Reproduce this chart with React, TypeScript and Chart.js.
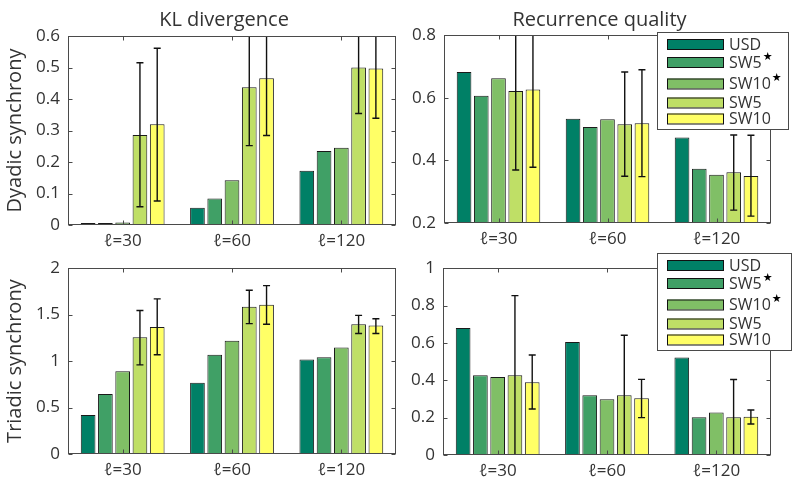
import React, { useEffect, useRef } from "react";
import { Chart, registerables } from "chart.js";

Chart.register(...registerables);

const FONT = "'Open Sans', 'DejaVu Sans', sans-serif";

const categories = ["ℓ=30", "ℓ=60", "ℓ=120"];
const seriesNames = ["USD", "SW5", "SW10", "SW5", "SW10"];
const seriesStar = [false, true, true, false, false];
const seriesColors = ["#008066", "#40a066", "#80bf66", "#bfdf66", "#ffff66"];

// KL divergence — dyadic synchrony
const klDyUSD = [0.001, 0.055, 0.172];
const klDySW5s = [0.002, 0.084, 0.235];
const klDySW10s = [0.008, 0.142, 0.245];
const klDySW5 = [0.286, 0.437, 0.5];
const klDySW10 = [0.32, 0.466, 0.497];
const klDySW5Lo = [0.058, 0.252, 0.354];
const klDySW5Hi = [0.515, 0.622, 0.646];
const klDySW10Lo = [0.076, 0.284, 0.339];
const klDySW10Hi = [0.561, 0.648, 0.655];

// Recurrence quality — dyadic synchrony
const rqDyUSD = [0.682, 0.533, 0.473];
const rqDySW5s = [0.606, 0.506, 0.373];
const rqDySW10s = [0.662, 0.531, 0.354];
const rqDySW5 = [0.621, 0.515, 0.362];
const rqDySW10 = [0.626, 0.518, 0.35];
const rqDySW5Lo = [0.369, 0.349, 0.241];
const rqDySW5Hi = [0.873, 0.682, 0.481];
const rqDySW10Lo = [0.378, 0.348, 0.222];
const rqDySW10Hi = [0.874, 0.689, 0.48];

// KL divergence — triadic synchrony
const klTrUSD = [0.419, 0.767, 1.016];
const klTrSW5s = [0.646, 1.069, 1.041];
const klTrSW10s = [0.892, 1.218, 1.147];
const klTrSW5 = [1.257, 1.584, 1.396];
const klTrSW10 = [1.368, 1.606, 1.382];
const klTrSW5Lo = [0.959, 1.403, 1.297];
const klTrSW5Hi = [1.545, 1.762, 1.492];
const klTrSW10Lo = [1.069, 1.396, 1.297];
const klTrSW10Hi = [1.67, 1.812, 1.456];

// Recurrence quality — triadic synchrony
const rqTrUSD = [0.68, 0.605, 0.522];
const rqTrSW5s = [0.427, 0.32, 0.202];
const rqTrSW10s = [0.418, 0.299, 0.228];
const rqTrSW5 = [0.427, 0.32, 0.202];
const rqTrSW10 = [0.389, 0.304, 0.205];
const rqTrSW5Lo = [0, 0, 0];
const rqTrSW5Hi = [0.853, 0.641, 0.404];
const rqTrSW10Lo = [0.246, 0.2, 0.166];
const rqTrSW10Hi = [0.535, 0.405, 0.241];

// axis ranges [min, max, step]
const klDyRange = [0, 0.6, 0.1];
const rqDyRange = [0.2, 0.8, 0.2];
const klTrRange = [0, 2, 0.5];
const rqTrRange = [0, 1, 0.2];

type Panel = {
  key: string;
  title: string;
  yLabel: string;
  range: number[];
  values: number[][];
  lo: (number[] | null)[];
  hi: (number[] | null)[];
  legend: null | { x: number; y: number; w: number; h: number };
  pos: { left: number; top: number; width: number; height: number };
  area: { l: number; r: number; t: number; b: number };
};

const panels: Panel[] = [
  {
    key: "tl",
    title: "KL divergence",
    yLabel: "Dyadic synchrony",
    range: klDyRange,
    values: [klDyUSD, klDySW5s, klDySW10s, klDySW5, klDySW10],
    lo: [null, null, null, klDySW5Lo, klDySW10Lo],
    hi: [null, null, null, klDySW5Hi, klDySW10Hi],
    legend: null,
    pos: { left: 0, top: 0, width: 400, height: 250 },
    area: { l: 68, r: 396, t: 36, b: 225 },
  },
  {
    key: "tr",
    title: "Recurrence quality",
    yLabel: "",
    range: rqDyRange,
    values: [rqDyUSD, rqDySW5s, rqDySW10s, rqDySW5, rqDySW10],
    lo: [null, null, null, rqDySW5Lo, rqDySW10Lo],
    hi: [null, null, null, rqDySW5Hi, rqDySW10Hi],
    legend: { x: 257, y: 32, w: 131, h: 97 },
    pos: { left: 400, top: 0, width: 400, height: 250 },
    area: { l: 44, r: 371, t: 35, b: 223 },
  },
  {
    key: "bl",
    title: "",
    yLabel: "Triadic synchrony",
    range: klTrRange,
    values: [klTrUSD, klTrSW5s, klTrSW10s, klTrSW5, klTrSW10],
    lo: [null, null, null, klTrSW5Lo, klTrSW10Lo],
    hi: [null, null, null, klTrSW5Hi, klTrSW10Hi],
    legend: null,
    pos: { left: 0, top: 250, width: 400, height: 236 },
    area: { l: 68, r: 396, t: 17, b: 204 },
  },
  {
    key: "br",
    title: "",
    yLabel: "",
    range: rqTrRange,
    values: [rqTrUSD, rqTrSW5s, rqTrSW10s, rqTrSW5, rqTrSW10],
    lo: [null, null, null, rqTrSW5Lo, rqTrSW10Lo],
    hi: [null, null, null, rqTrSW5Hi, rqTrSW10Hi],
    legend: { x: 257, y: 3, w: 134, h: 97 },
    pos: { left: 400, top: 250, width: 400, height: 236 },
    area: { l: 43, r: 371, t: 17, b: 205 },
  },
];

const legendRowOffsets = [12, 30, 51.5, 70.5, 86.5];

function makeDecorPlugin(panel: Panel) {
  return {
    id: "decor_" + panel.key,
    afterDatasetsDraw(chart: any) {
      const ctx = chart.ctx as CanvasRenderingContext2D;
      const ca = chart.chartArea;
      const ys = chart.scales.y;
      const xs = chart.scales.x;
      // error bars
      ctx.save();
      ctx.beginPath();
      ctx.rect(ca.left, ca.top, ca.right - ca.left, ca.bottom - ca.top);
      ctx.clip();
      ctx.strokeStyle = "#111";
      ctx.lineWidth = 1.4;
      panel.values.forEach((_, di) => {
        const lo = panel.lo[di];
        const hi = panel.hi[di];
        if (!lo || !hi) return;
        const meta = chart.getDatasetMeta(di);
        meta.data.forEach((el: any, i: number) => {
          const x = el.x;
          const y1 = ys.getPixelForValue(lo[i]);
          const y2 = ys.getPixelForValue(hi[i]);
          ctx.beginPath();
          ctx.moveTo(x, y1);
          ctx.lineTo(x, y2);
          ctx.moveTo(x - 3.5, y1);
          ctx.lineTo(x + 3.5, y1);
          ctx.moveTo(x - 3.5, y2);
          ctx.lineTo(x + 3.5, y2);
          ctx.stroke();
        });
      });
      ctx.restore();

      // box and inward ticks
      ctx.save();
      ctx.strokeStyle = "#4a4a4a";
      ctx.lineWidth = 1;
      const L = Math.round(ca.left) + 0.5;
      const R = Math.round(ca.right) - 0.5;
      const T = Math.round(ca.top) + 0.5;
      const B = Math.round(ca.bottom) - 0.5;
      ctx.strokeRect(L, T, R - L, B - T);
      ctx.beginPath();
      ys.ticks.forEach((t: any) => {
        const y = Math.round(ys.getPixelForValue(t.value)) + 0.5;
        ctx.moveTo(L, y);
        ctx.lineTo(L + 4, y);
        ctx.moveTo(R, y);
        ctx.lineTo(R - 4, y);
      });
      categories.forEach((_, i) => {
        const x = Math.round(xs.getPixelForValue(i)) + 0.5;
        ctx.moveTo(x, T);
        ctx.lineTo(x, T + 4);
        ctx.moveTo(x, B);
        ctx.lineTo(x, B - 4);
      });
      ctx.stroke();
      ctx.restore();

      // title
      if (panel.title) {
        ctx.save();
        ctx.fillStyle = "#333";
        ctx.font = `20px ${FONT}`;
        ctx.textAlign = "center";
        ctx.textBaseline = "alphabetic";
        ctx.fillText(panel.title, (ca.left + ca.right) / 2 - 8, 26);
        ctx.restore();
      }

      // legend
      if (panel.legend) {
        const lg = panel.legend;
        ctx.save();
        ctx.fillStyle = "#fff";
        ctx.fillRect(lg.x, lg.y, lg.w, lg.h);
        ctx.strokeStyle = "#4a4a4a";
        ctx.lineWidth = 1;
        ctx.strokeRect(lg.x + 0.5, lg.y + 0.5, lg.w, lg.h);
        seriesNames.forEach((name, i) => {
          const cy = lg.y + legendRowOffsets[i];
          ctx.fillStyle = seriesColors[i];
          ctx.fillRect(lg.x + 10, cy - 5, 57, 10);
          ctx.strokeStyle = "#111";
          ctx.strokeRect(lg.x + 10.5, cy - 4.5, 56, 10);
          ctx.fillStyle = "#333";
          ctx.font = `16px ${FONT}`;
          ctx.textAlign = "left";
          ctx.textBaseline = "middle";
          ctx.fillText(name, lg.x + 72, cy + 1);
          if (seriesStar[i]) {
            const w = ctx.measureText(name).width;
            ctx.fillStyle = "#000";
            ctx.font = `11px 'DejaVu Sans', sans-serif`;
            ctx.fillText("★", lg.x + 72 + w + 1, cy - 5);
          }
        });
        ctx.restore();
      }
    },
  };
}

function PanelChart({ panel }: { panel: Panel }) {
  const ref = useRef<HTMLCanvasElement | null>(null);
  useEffect(() => {
    if (!ref.current) return;
    const { width: W, height: H } = panel.pos;
    const a = panel.area;
    const chart = new Chart(ref.current, {
      type: "bar",
      data: {
        labels: categories,
        datasets: panel.values.map((vals, i) => ({
          label: seriesNames[i],
          data: vals,
          backgroundColor: seriesColors[i],
          borderColor: "#1a1a1a",
          borderWidth: 1,
          borderSkipped: false,
          minBarLength: 2,
          categoryPercentage: 0.79,
          barPercentage: 0.85,
        })),
      },
      options: {
        animation: false,
        responsive: false,
        devicePixelRatio: 1,
        layout: { padding: { top: a.t, right: W - a.r, bottom: 0, left: 0 } },
        plugins: {
          legend: { display: false },
          tooltip: { enabled: false },
          title: { display: false },
        },
        scales: {
          x: {
            grid: { display: false, drawTicks: false },
            border: { display: false },
            ticks: { color: "#333", font: { family: FONT, size: 17 }, padding: 6 },
            afterFit: (s: any) => {
              s.height = H - a.b;
            },
          },
          y: {
            min: panel.range[0],
            max: panel.range[1],
            grid: { display: false, drawTicks: false },
            border: { display: false },
            ticks: {
              stepSize: panel.range[2],
              color: "#333",
              font: { family: FONT, size: 17 },
              padding: 8,
              callback: (v: any) => String(Math.round(Number(v) * 1000) / 1000),
            },
            title: {
              display: !!panel.yLabel,
              text: panel.yLabel,
              color: "#333",
              font: { family: FONT, size: 20 },
              padding: { top: 3, bottom: 0 },
            },
            afterFit: (s: any) => {
              s.width = a.l;
            },
          },
        },
      },
      plugins: [makeDecorPlugin(panel)],
    } as any);
    return () => chart.destroy();
  }, [panel]);
  return (
    <canvas
      ref={ref}
      width={panel.pos.width}
      height={panel.pos.height}
      style={{
        position: "absolute",
        left: panel.pos.left,
        top: panel.pos.top,
        width: panel.pos.width,
        height: panel.pos.height,
        display: "block",
      }}
    />
  );
}

export default function App() {
  return (
    <div
      style={{
        position: "fixed",
        left: 0,
        top: 0,
        width: 800,
        height: 486,
        background: "#fff",
        overflow: "hidden",
      }}
    >
      {panels.map((p) => (
        <PanelChart key={p.key} panel={p} />
      ))}
    </div>
  );
}
